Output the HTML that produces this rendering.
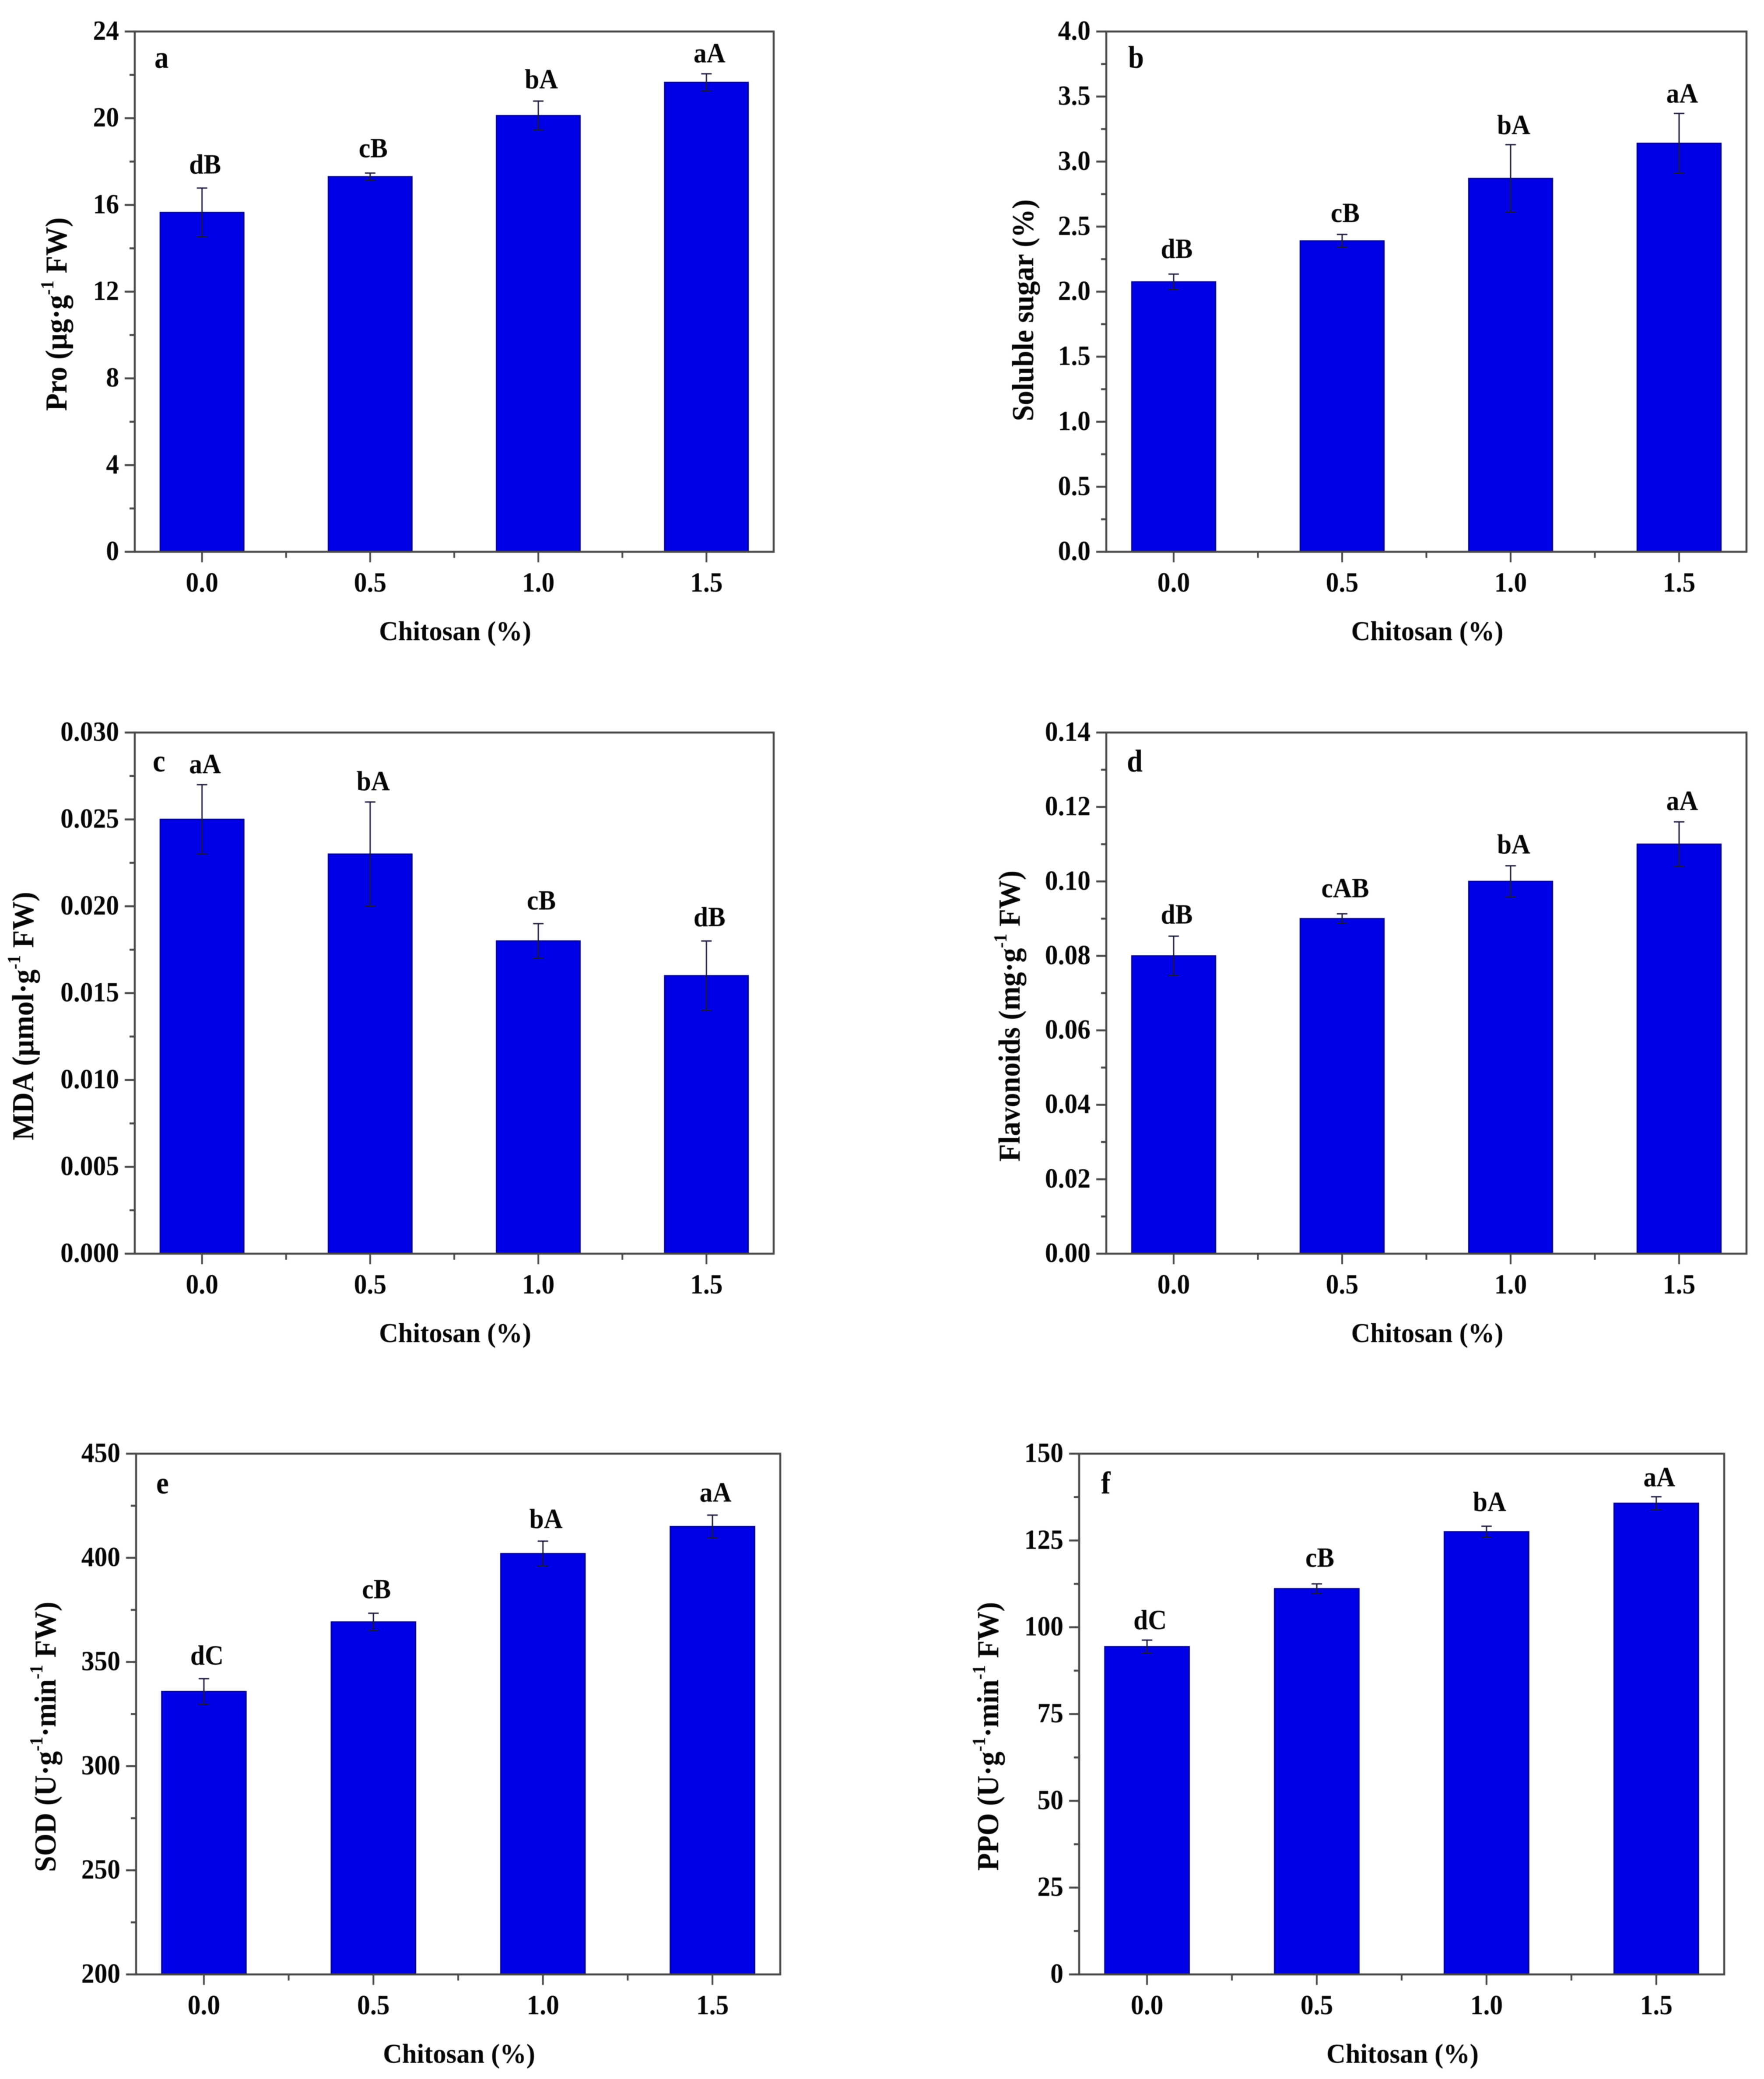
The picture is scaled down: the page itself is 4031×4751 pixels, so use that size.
<!DOCTYPE html>
<html lang="en">
<head>
<meta charset="utf-8">
<title>Effects of chitosan on physiological indices</title>
<style>
html,body{margin:0;padding:0;background:#fff;}
svg{display:block;filter:blur(0.9px);}
text{font-family:"Liberation Serif","Times New Roman",serif;font-weight:bold;fill:#050505;}
</style>
</head>
<body>
<svg id="figure" xmlns="http://www.w3.org/2000/svg" width="4031" height="4751" viewBox="0 0 4031 4751">
<rect x="0" y="0" width="4031" height="4751" fill="#ffffff"></rect>
</svg>
<script>
// Shared category axis
const categories = ['0.0', '0.5', '1.0', '1.5'];

// Panel a: Pro
const proValues = [15.65, 17.3, 20.12, 21.65];
const proErrors = [1.13, 0.17, 0.67, 0.4];
const proLetters = ['dB', 'cB', 'bA', 'aA'];
const proTicks = ['0', '4', '8', '12', '16', '20', '24'];

// Panel b: Soluble sugar
const sugarValues = [2.075, 2.39, 2.87, 3.14];
const sugarErrors = [0.06, 0.05, 0.26, 0.23];
const sugarLetters = ['dB', 'cB', 'bA', 'aA'];
const sugarTicks = ['0.0', '0.5', '1.0', '1.5', '2.0', '2.5', '3.0', '3.5', '4.0'];

// Panel c: MDA
const mdaValues = [0.025, 0.023, 0.018, 0.016];
const mdaErrors = [0.002, 0.003, 0.001, 0.002];
const mdaLetters = ['aA', 'bA', 'cB', 'dB'];
const mdaTicks = ['0.000', '0.005', '0.010', '0.015', '0.020', '0.025', '0.030'];

// Panel d: Flavonoids
const flavonoidValues = [0.08, 0.09, 0.1, 0.11];
const flavonoidErrors = [0.0053, 0.0013, 0.0042, 0.006];
const flavonoidLetters = ['dB', 'cAB', 'bA', 'aA'];
const flavonoidTicks = ['0.00', '0.02', '0.04', '0.06', '0.08', '0.10', '0.12', '0.14'];

// Panel e: SOD
const sodValues = [335.8, 369.2, 402, 415];
const sodErrors = [6.2, 4.2, 6, 5.5];
const sodLetters = ['dC', 'cB', 'bA', 'aA'];
const sodTicks = ['200', '250', '300', '350', '400', '450'];

// Panel f: PPO
const ppoValues = [94.4, 111.1, 127.5, 135.7];
const ppoErrors = [1.9, 1.4, 1.6, 1.9];
const ppoLetters = ['dC', 'cB', 'bA', 'aA'];
const ppoTicks = ['0', '25', '50', '75', '100', '125', '150'];

const xAxisTitle = 'Chitosan (%)';

// Panel wiring: which arrays belong to each panel, and its layout on the page
const panels = [
  {id:'a', metric:'pro', values:proValues, errors:proErrors, letters:proLetters, ticks:proTicks,
   title:['Pro (\u00b5g\u00b7g','-1',' FW)'],
   box:[308,1768,72,1261], titlePos:[152,718], tagPos:[353,155], gaps:[33,36,29,26]},
  {id:'b', metric:'soluble-sugar', values:sugarValues, errors:sugarErrors, letters:sugarLetters, ticks:sugarTicks,
   title:['Soluble sugar (%)','',''],
   box:[2528,3991,72,1261], titlePos:[2361,709], tagPos:[2578,155], gaps:[37,28,24,25]},
  {id:'c', metric:'mda', values:mdaValues, errors:mdaErrors, letters:mdaLetters, ticks:mdaTicks,
   title:['MDA (\u00b5mol\u00b7g','-1',' FW)'],
   box:[308,1768,1674,2865], titlePos:[76,2322], tagPos:[349,1763], gaps:[26,27,32,34]},
  {id:'d', metric:'flavonoids', values:flavonoidValues, errors:flavonoidErrors, letters:flavonoidLetters, ticks:flavonoidTicks,
   title:['Flavonoids (mg\u00b7g','-1',' FW)'],
   box:[2528,3991,1674,2865], titlePos:[2330,2322], tagPos:[2575,1763], gaps:[29,38,28,27]},
  {id:'e', metric:'sod', values:sodValues, errors:sodErrors, letters:sodLetters, ticks:sodTicks,
   title:['SOD (U\u00b7g','-1','\u00b7min','-1',' FW)'],
   box:[311,1783,3322,4512], titlePos:[127,3969], tagPos:[357,3413], gaps:[32,34,30,31]},
  {id:'f', metric:'ppo', values:ppoValues, errors:ppoErrors, letters:ppoLetters, ticks:ppoTicks,
   title:['PPO (U\u00b7g','-1','\u00b7min','-1',' FW)'],
   box:[2466,3940,3322,4512], titlePos:[2281,3968], tagPos:[2516,3413], gaps:[25,39,35,24]}
];

const SVG_NS = 'http://www.w3.org/2000/svg';
const AXIS_COLOR = '#474747';
const figure = document.getElementById('figure');

function make(parent, tag, attrs, text) {
  const node = document.createElementNS(SVG_NS, tag);
  for (const k in attrs) node.setAttribute(k, attrs[k]);
  if (text !== undefined) node.textContent = text;
  parent.appendChild(node);
  return node;
}

function line(parent, x1, y1, x2, y2, stroke, width) {
  return make(parent, 'line', {x1:x1, y1:y1, x2:x2, y2:y2, stroke:stroke, 'stroke-width':width});
}

function label(parent, x, y, content, anchor, size, sx) {
  return make(parent, 'text', {
    transform:'translate(' + x + ' ' + y + ') scale(' + sx + ' 1)',
    'text-anchor':anchor, 'font-size':size
  }, content);
}

panels.forEach(function (p) {
  const left = p.box[0], right = p.box[1], top = p.box[2], bottom = p.box[3];
  const tickValues = p.ticks.map(parseFloat);
  const yMin = tickValues[0];
  const yMax = tickValues[tickValues.length - 1];

  // axis functions
  const xScale = function (i) { return left + (i + 0.4) / 3.8 * (right - left); };
  const yScale = function (v) { return bottom - (v - yMin) / (yMax - yMin) * (bottom - top); };

  const group = make(figure, 'g', {});
  
  

  // bars
  p.values.forEach(function (v, i) {
    const half = 0.2485 / 3.8 * (right - left);
    const bar = make(group, 'rect', {
      x:xScale(i) - half, y:yScale(v), width:half * 2, height:bottom - yScale(v),
      fill:'#0000e6', stroke:'#000088', 'stroke-width':3
    });
    
    
  });

  // error bars
  p.values.forEach(function (v, i) {
    const e = p.errors[i];
    const cx = xScale(i);
    const err = make(group, 'g', {stroke:'#1a1a3a', 'stroke-width':3});
    
    
    make(err, 'line', {x1:cx, y1:yScale(v + e), x2:cx, y2:yScale(v - e)});
    make(err, 'line', {x1:cx - 12, y1:yScale(v + e), x2:cx + 12, y2:yScale(v + e)});
    make(err, 'line', {x1:cx - 12, y1:yScale(v - e), x2:cx + 12, y2:yScale(v - e)});
  });

  // plot frame
  const frame = make(group, 'rect', {
    x:left, y:top, width:right - left, height:bottom - top,
    fill:'none', stroke:AXIS_COLOR, 'stroke-width':4.5
  });
  
  

  // y axis ticks and labels
  p.ticks.forEach(function (t, i) {
    const v = tickValues[i];
    const y = yScale(v);
    const major = line(group, left - 23, y, left, y, AXIS_COLOR, 4.5);
    
    
    const tickText = label(group, left - 36, y + 19, t, 'end', 64, 0.93);
    
    
    if (i < p.ticks.length - 1) {
      const ym = yScale((v + tickValues[i + 1]) / 2);
      const minor = line(group, left - 12, ym, left, ym, AXIS_COLOR, 4.5);
      
      
    }
  });

  // x axis ticks and labels
  categories.forEach(function (c, i) {
    const x = xScale(i);
    const major = line(group, x, bottom, x, bottom + 24, AXIS_COLOR, 4);
    
    
    const catText = label(group, x, bottom + 91, c, 'middle', 64, 0.93);
    
    
    if (i < categories.length - 1) {
      const xm = xScale(i + 0.5);
      const minor = line(group, xm, bottom, xm, bottom + 14, AXIS_COLOR, 4);
      
      
    }
  });

  // significance letters above each error bar
  p.letters.forEach(function (s, i) {
    const sig = label(group, xScale(i) + 7, yScale(p.values[i] + p.errors[i]) - p.gaps[i], s, 'middle', 64, 0.93);
    
    
  });

  // panel tag
  const tag = label(group, p.tagPos[0], p.tagPos[1], p.id, 'start', 72, 0.9);
  
  

  // x axis title
  const xt = label(group, (left + right) / 2 + 2, bottom + 202, xAxisTitle, 'middle', 63, 0.96);
  
  

  // y axis title (rotated; odd title parts are superscripts)
  const yt = make(group, 'text', {
    transform:'translate(' + p.titlePos[0] + ' ' + p.titlePos[1] + ') rotate(-90) scale(0.94 1)',
    'text-anchor':'middle', 'font-size':70
  });
  
  
  let raised = false;
  p.title.forEach(function (part, i) {
    if (!part) return;
    const isSup = i % 2 === 1;
    const attrs = {};
    if (isSup) { attrs['font-size'] = 42; attrs.dy = -30; raised = true; }
    else if (raised) { attrs.dy = 30; raised = false; }
    make(yt, 'tspan', attrs, part);
  });
});
</script>
</body>
</html>
